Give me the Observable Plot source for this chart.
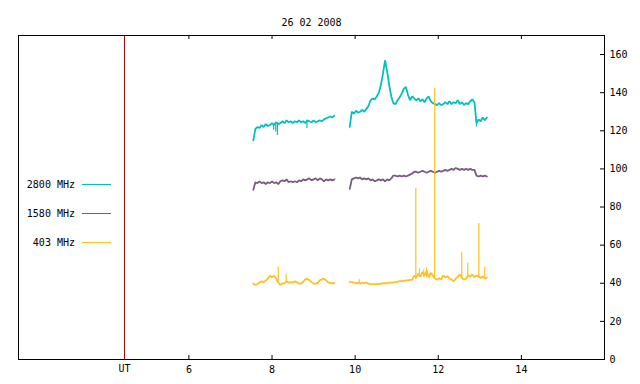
<!DOCTYPE html>
<html>
<head>
<meta charset="utf-8">
<script src="https://cdn.jsdelivr.net/npm/d3@7"></script>
<script src="https://cdn.jsdelivr.net/npm/@observablehq/plot@0.6"></script>
<style>
  html, body { margin: 0; padding: 0; background: #fff; }
  #chart svg { display: block; }
</style>
</head>
<body>
<div id="chart"></div>
<script>
// ---- data ----
const title = "26 02 2008";
const utMark = 4.45;                 // red "UT" marker (hours)
const xTicks = [6, 8, 10, 12, 14];
const yTicks = [0, 20, 40, 60, 80, 100, 120, 140, 160];
const seriesNames = ["2800 MHz", "1580 MHz", "403 MHz"];
const seriesColors = ["#00c0c0", "#7a5a80", "#ffc020"];

// sampling of the two recorded segments (hours UT)
const seg1Start = 7.55, seg2Start = 9.87, sampleStep = 0.05;

const f2800a = [115,121,122,121.5,123,122,123.5,122.5,123,124,123,124.5,123.5,124,125,124,125.5,124.5,125,124,
                125,124.5,125.5,124.5,125,124,125.5,125,124.5,125.5,124.5,125,125.5,125,126,126.5,127,127.5,127,128];
const f2800b = [122,130,129,130.5,129.5,130,131,130,131.5,133,136,137,136.5,138,140,144,150,157,151,144,
                138,134.5,134,136,137.5,139.5,142,143,139,136,138,137,136,137,135.5,136.5,135,137,138,135.5,
                134.5,134,133.5,134.5,133.5,134,135,134,135.5,134,135,134.5,136,134,135,133.5,134.5,134,135.5,136.5,
                135,124,126,125,127,125.5,127];
const f1580a = [89,93,92.5,93.5,92.5,93,92,93,92.5,93.5,92.5,93,92,93.5,94,93.5,94.5,93,93.5,93,
                93.5,93,94,93.5,94.5,94,94.5,95,94,94.5,95,94,95,94.5,93.5,94.5,94,94.5,94,94.5];
const f1580b = [89.5,94.5,95,95.5,95,95.5,94.5,95,94.5,95,94,94.5,93.5,94,94.5,94,94.5,93.5,94.5,94,
                95,96.5,96.5,96,96.5,96,96.5,96,96.5,97,97.5,98.5,98.5,98,98.5,99,98.5,98,98.5,99,
                98.5,98,98.5,99,98.5,99,99.5,99,99.5,100,99.5,100.5,100,99.5,100,99.5,100,99.5,100,99.5,
                99.5,96.5,96,96.5,96,96.5,96];
const f403a  = [39.8,39.2,39.6,40.5,41,40.6,41.5,42.5,44,43.2,44,42.5,40.5,39.2,39.8,40.1,41,40.3,40.6,40.5,
                41,40.5,39.8,39.8,40.8,42,42.4,41.5,40.6,39.8,39.8,40.2,41.5,42,42.4,41.5,40.5,40.1,40,40.1];
const f403b  = [40.6,40.6,40.3,40.1,40.2,39.8,40.3,40.1,40.3,39.8,39.6,39.6,39.6,39.6,39.6,39.8,39.9,40,40.1,40.3,
                40.3,40.5,40.6,40.8,41.1,41.1,41.3,41.5,41.5,41.8,41.8,44,43,45,43.5,46,44,46.5,43,45.5,
                44,42.5,41.8,42.7,42,44.1,43,43.6,42.5,41.8,41,42.4,43.5,44.6,42.9,41.8,42.5,44.1,43.5,44.6,
                43.2,44,43.6,42.8,43.6,42.4,43];

// narrow spikes (hours, base value, tip value)
const spike403T    = [8.15, 8.34, 10.10, 11.46, 11.55, 11.65, 11.72, 11.914, 12.565, 12.71, 12.975, 13.12];
const spike403Base = [41, 41, 40, 42, 43, 43, 43, 43, 43, 43, 43, 43];
const spike403Tip  = [48.5, 44.6, 41.8, 89.8, 47.5, 47, 48, 142.2, 56, 50.6, 71.3, 48.5];
const dip2800T     = [8.04, 8.09, 8.13, 8.84, 12.92];
const dip2800Base  = [123.5, 123.5, 124, 125, 126];
const dip2800Tip   = [120.3, 119.4, 117.6, 121.2, 122];

// ---- build tables ----
const rows = [];
function addSeg(vals, start, name, seg) {
  vals.forEach((v, i) => rows.push({t: start + i * sampleStep, v, name, seg: name + seg}));
}
addSeg(f2800a, seg1Start, seriesNames[0], 1); addSeg(f2800b, seg2Start, seriesNames[0], 2);
addSeg(f1580a, seg1Start, seriesNames[1], 1); addSeg(f1580b, seg2Start, seriesNames[1], 2);
addSeg(f403a,  seg1Start, seriesNames[2], 1); addSeg(f403b,  seg2Start, seriesNames[2], 2);

const spikes = [];
spike403T.forEach((t, i) => spikes.push({t, a: spike403Base[i], b: spike403Tip[i], name: seriesNames[2]}));
dip2800T.forEach((t, i) => spikes.push({t, a: dip2800Base[i], b: dip2800Tip[i], name: seriesNames[0]}));

const color = {domain: seriesNames, range: seriesColors};
const fontFamily = "'DejaVu Sans Mono', monospace";

const chart = Plot.plot({
  width: 640, height: 384,
  marginLeft: 18, marginRight: 36, marginTop: 35, marginBottom: 25,
  x: {domain: [1.9, 16], axis: null},
  y: {domain: [0, 170], axis: null},
  color,
  style: {fontFamily, fontSize: "10px", background: "#fff", color: "#000"},
  marks: [
    Plot.ruleX([utMark], {stroke: "#b00000", strokeWidth: 1}),
    Plot.line(rows, {x: "t", y: "v", z: "seg", stroke: "name", strokeWidth: 1.8, strokeLinejoin: "miter"}),
    Plot.ruleX(spikes, {x: "t", y1: "a", y2: "b", stroke: "name", strokeWidth: 1.2}),
    Plot.frame({stroke: "#000", strokeWidth: 1}),
    Plot.ruleX(xTicks, {insetTop: 320, stroke: "#000"}),
    Plot.ruleX(xTicks, {insetBottom: 320, stroke: "#000"}),
    Plot.ruleY(yTicks, {insetLeft: 582, stroke: "#000"}),
    Plot.text(yTicks, {y: d => d, frameAnchor: "right", dx: 5, textAnchor: "start", text: d => String(d), fill: "#000"}),
    Plot.text(xTicks, {x: d => d, frameAnchor: "bottom", dy: 13, text: d => String(d), fill: "#000"}),
    Plot.text(["UT"], {x: () => utMark, frameAnchor: "bottom", dy: 12, text: d => d, fill: "#000"}),
    Plot.text([title], {frameAnchor: "top", dy: -17, text: d => d, fill: "#000"})
  ]
});

// legend (layout only)
const svg = d3.select(chart);
const legendY = [184.5, 213.5, 242.5];
seriesNames.forEach((name, i) => {
  svg.append("text").attr("x", 75).attr("y", legendY[i]).attr("dy", "0.35em")
    .attr("text-anchor", "end").attr("fill", "#000")
    .style("font-family", fontFamily).style("font-size", "10px").text(name);
  svg.append("line").attr("x1", 82).attr("x2", 111).attr("y1", legendY[i]).attr("y2", legendY[i])
    .attr("stroke", seriesColors[i]).attr("stroke-width", 1);
});

document.getElementById("chart").appendChild(chart);
</script>
</body>
</html>
